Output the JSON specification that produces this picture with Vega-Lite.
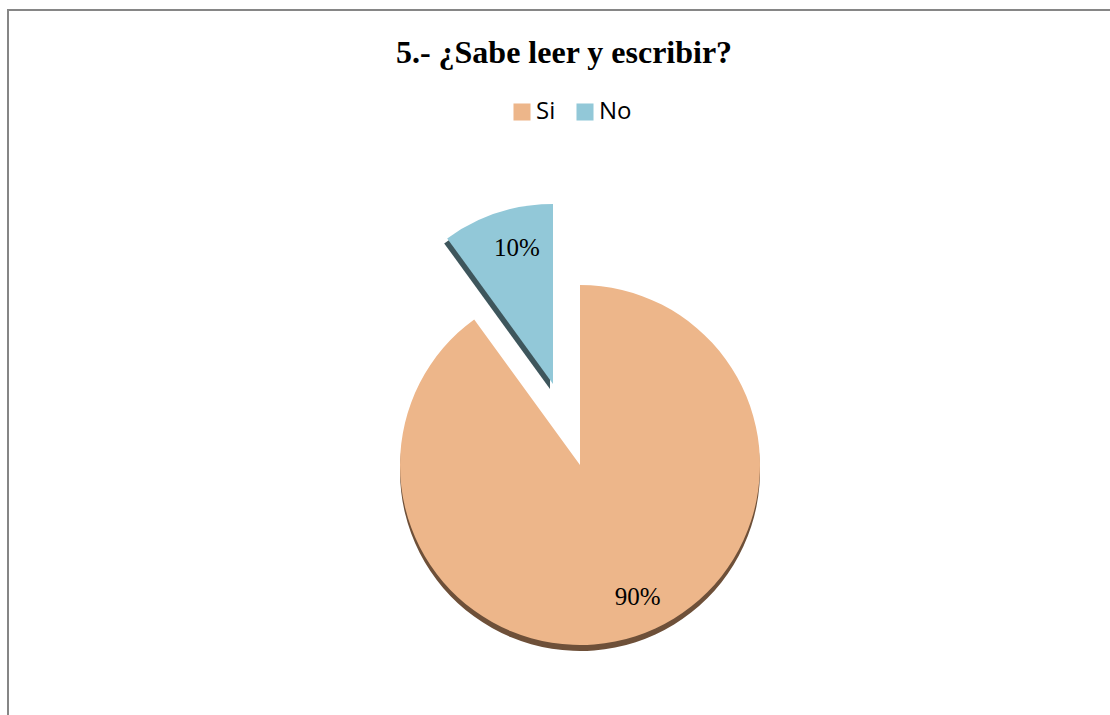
{
  "$schema": "https://vega.github.io/schema/vega-lite/v6.json",
  "width": 1144,
  "height": 910,
  "autosize": {"type": "none"},
  "padding": {"left": 8, "top": 10, "right": -42, "bottom": -205},
  "background": "white",
  "view": {"stroke": "#868686", "strokeWidth": 2, "fill": "white"},
  "title": {
    "text": "5.- ¿Sabe leer y escribir?",
    "font": "Liberation Serif",
    "fontSize": 32,
    "fontWeight": "bold",
    "color": "#000000",
    "anchor": "middle",
    "offset": -60,
    "dx": -16
  },
  "data": {
    "values": [
      {"respuesta": "Si", "porcentaje": 90, "orden": 1, "texto": "90%"},
      {"respuesta": "No", "porcentaje": 10, "orden": 2, "texto": "10%"}
    ]
  },
  "encoding": {
    "theta": {"field": "porcentaje", "type": "quantitative", "stack": true},
    "order": {"field": "orden", "type": "quantitative"}
  },
  "layer": [
    {
      "mark": {"type": "arc", "radius": 180, "yOffset": 6, "xOffset": 0},
      "encoding": {
        "color": {"value": "#6E5039"},
        "opacity": {"condition": {"test": "datum.respuesta === 'Si'", "value": 1}, "value": 0}
      }
    },
    {
      "mark": {"type": "arc", "radius": 180, "xOffset": -30, "yOffset": -76},
      "encoding": {
        "color": {"value": "#3E565C"},
        "opacity": {"condition": {"test": "datum.respuesta === 'No'", "value": 1}, "value": 0}
      }
    },
    {
      "mark": {"type": "arc", "radius": 180},
      "encoding": {
        "color": {
          "field": "respuesta",
          "type": "nominal",
          "scale": {"domain": ["Si", "No"], "range": ["#EDB68A", "#92C8D8"]},
          "legend": {
            "orient": "none",
            "legendX": 502,
            "legendY": 90,
            "direction": "horizontal",
            "title": null,
            "symbolType": "square",
            "symbolSize": 290,
            "symbolStrokeWidth": 0,
            "symbolOpacity": 1,
            "labelFont": "Open Sans",
            "labelFontSize": 24,
            "labelColor": "#000000",
            "labelOffset": 2,
            "columnPadding": 17
          }
        },
        "opacity": {"condition": {"test": "datum.respuesta === 'Si'", "value": 1}, "value": 0}
      }
    },
    {
      "mark": {"type": "arc", "radius": 180, "xOffset": -27, "yOffset": -81},
      "encoding": {
        "color": {"field": "respuesta", "type": "nominal"},
        "opacity": {"condition": {"test": "datum.respuesta === 'No'", "value": 1}, "value": 0}
      }
    },
    {
      "mark": {"type": "text", "radius": 148, "font": "Liberation Serif", "fontSize": 25, "color": "#000000", "align": "center", "baseline": "middle", "xOffset": 12, "yOffset": -9},
      "encoding": {
        "text": {"field": "texto"},
        "opacity": {"condition": {"test": "datum.respuesta === 'Si'", "value": 1}, "value": 0}
      }
    },
    {
      "mark": {"type": "text", "radius": 143, "xOffset": -19, "yOffset": -81, "font": "Liberation Serif", "fontSize": 25, "color": "#000000", "align": "center", "baseline": "middle"},
      "encoding": {
        "text": {"field": "texto"},
        "opacity": {"condition": {"test": "datum.respuesta === 'No'", "value": 1}, "value": 0}
      }
    }
  ]
}
